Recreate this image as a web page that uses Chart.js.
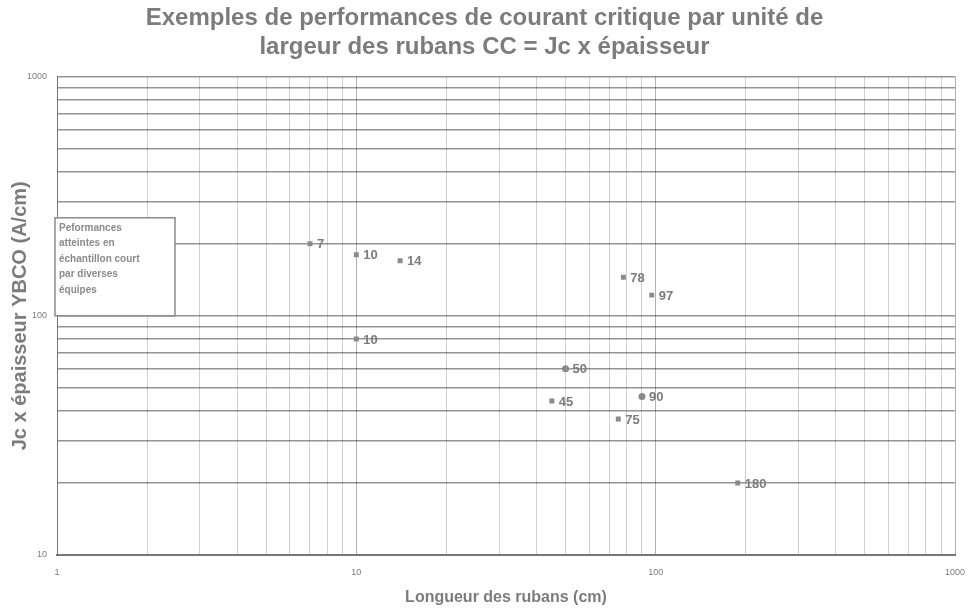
<!DOCTYPE html>
<html>
<head>
<meta charset="utf-8">
<script src="https://cdn.jsdelivr.net/npm/chart.js@4.4.1/dist/chart.umd.min.js"></script>
<style>
  html, body { margin: 0; padding: 0; background: #fff; }
  #wrap { width: 969px; height: 613px; position: relative; }
</style>
</head>
<body>
<div id="wrap"><canvas id="jcChart"></canvas></div>
<script>
// Ribbon length (cm) vs Jc x thickness (A/cm)
const ribbonLength = [7, 10, 14, 10, 78, 97, 50, 45, 90, 75, 188];
const jcThickness = [200, 180, 170, 80, 145, 122, 60, 44, 46, 37, 20];
const pointLabels = ['7', '10', '14', '10', '78', '97', '50', '45', '90', '75', '180'];
const xTickLabels = ['1', '10', '100', '1000'];
const yTickLabels = ['10', '100', '1000'];
const boxLines = ['Peformances', 'atteintes en', 'échantillon court', 'par diverses', 'équipes'];

const GREY = '#7c7c7c';
const FONT = '"Liberation Sans", Arial, sans-serif';

// 1..9 x 10^k ticks so every minor grid line is drawn
function logTicks(min, max) {
    const ticks = [];
    for (let p = min; p < max; p *= 10) {
        for (let m = 1; m < 10; m++) ticks.push({ value: m * p });
    }
    ticks.push({ value: max });
    return ticks;
}

function isPow10(v) {
    const l = Math.log10(v);
    return Math.abs(l - Math.round(l)) < 1e-9;
}

// labels next to the markers
const pointLabelPlugin = {
    id: 'pointLabels',
    afterDatasetsDraw(chart) {
        const ctx = chart.ctx;
        const meta = chart.getDatasetMeta(0);
        ctx.save();
        ctx.fillStyle = GREY;
        ctx.font = 'bold 13px ' + FONT;
        ctx.textBaseline = 'middle';
        meta.data.forEach((pt, i) => {
            ctx.fillText(pointLabels[i], pt.x + 7, pt.y + 1);
        });
        ctx.restore();
    }
};

// the little framed note on the left
const noteBoxPlugin = {
    id: 'noteBox',
    afterDatasetsDraw(chart) {
        const ctx = chart.ctx;
        const area = chart.chartArea;
        const y = chart.scales.y;
        const left = area.left - 2;
        const bottom = y.getPixelForValue(100);
        const w = 120, h = 98;
        ctx.save();
        ctx.fillStyle = '#fff';
        ctx.fillRect(left, bottom - h, w, h);
        ctx.strokeStyle = '#8a8a8a';
        ctx.lineWidth = 1.5;
        ctx.strokeRect(left, bottom - h, w, h);
        ctx.fillStyle = '#8a8a8a';
        ctx.font = 'bold 10px ' + FONT;
        ctx.textBaseline = 'middle';
        boxLines.forEach((t, i) => {
            ctx.fillText(t, left + 4, bottom - h + 10 + i * 15.5);
        });
        ctx.restore();
    }
};

function initChart() {
    const ctx = document.getElementById('jcChart');

    new Chart(ctx, {
        type: 'scatter',
        data: {
            datasets: [{
                data: ribbonLength.map((x, i) => ({ x: x, y: jcThickness[i] })),
                backgroundColor: '#8a8a8a',
                borderColor: '#8a8a8a',
                pointStyle: ['rect', 'rect', 'rect', 'rect', 'rect', 'rect', 'circle', 'rect', 'circle', 'rect', 'rect'],
                pointRadius: 3.5,
                borderWidth: 0
            }]
        },
        options: {
            responsive: true,
            maintainAspectRatio: false,
            animation: false,
            layout: { padding: { left: 0, right: 0, top: 0, bottom: 0 } },
            plugins: {
                legend: { display: false },
                tooltip: { enabled: false },
                title: {
                    display: true,
                    text: ['Exemples de performances de courant critique par unité de',
                           'largeur des rubans CC = Jc x épaisseur'],
                    color: GREY,
                    font: { family: FONT, size: 24, weight: 'bold', lineHeight: 1.2 },
                    padding: { top: 4, bottom: 15 }
                }
            },
            scales: {
                x: {
                    type: 'logarithmic',
                    min: 1,
                    max: 1000,
                    afterBuildTicks(scale) { scale.ticks = logTicks(1, 1000); },
                    afterFit(scale) {
                        scale.height = 58;
                        scale.paddingRight = 14;
                    },
                    ticks: {
                        autoSkip: false,
                        maxRotation: 0,
                        color: GREY,
                        font: { family: FONT, size: 9 },
                        padding: 12,
                        callback: (v) => isPow10(v) ? xTickLabels[Math.round(Math.log10(v))] : ''
                    },
                    grid: {
                        color: (c) => (c.tick && isPow10(c.tick.value)) ? 'rgba(0,0,0,0.3)' : 'rgba(0,0,0,0.18)',
                        lineWidth: 1,
                        drawTicks: false
                    },
                    border: { color: '#777', width: 2 },
                    title: {
                        display: true,
                        text: 'Longueur des rubans (cm)',
                        color: GREY,
                        font: { family: FONT, size: 16, weight: 'bold' },
                        padding: { top: 0, bottom: 6 }
                    }
                },
                y: {
                    type: 'logarithmic',
                    min: 10,
                    max: 1000,
                    afterBuildTicks(scale) { scale.ticks = logTicks(10, 1000); },
                    afterFit(scale) { scale.width = 57; },
                    ticks: {
                        autoSkip: false,
                        color: GREY,
                        font: { family: FONT, size: 9 },
                        padding: 10,
                        callback: (v) => isPow10(v) ? yTickLabels[Math.round(Math.log10(v)) - 1] : ''
                    },
                    grid: {
                        color: 'rgba(0,0,0,0.42)',
                        lineWidth: 1.5,
                        drawTicks: false
                    },
                    border: { color: '#777', width: 1 },
                    title: {
                        display: true,
                        text: 'Jc x épaisseur YBCO (A/cm)',
                        color: GREY,
                        font: { family: FONT, size: 20, weight: 'bold' },
                        padding: { top: 8, bottom: 0 }
                    }
                }
            }
        },
        plugins: [pointLabelPlugin, noteBoxPlugin]
    });
}

document.addEventListener('DOMContentLoaded', initChart);
</script>
</body>
</html>
